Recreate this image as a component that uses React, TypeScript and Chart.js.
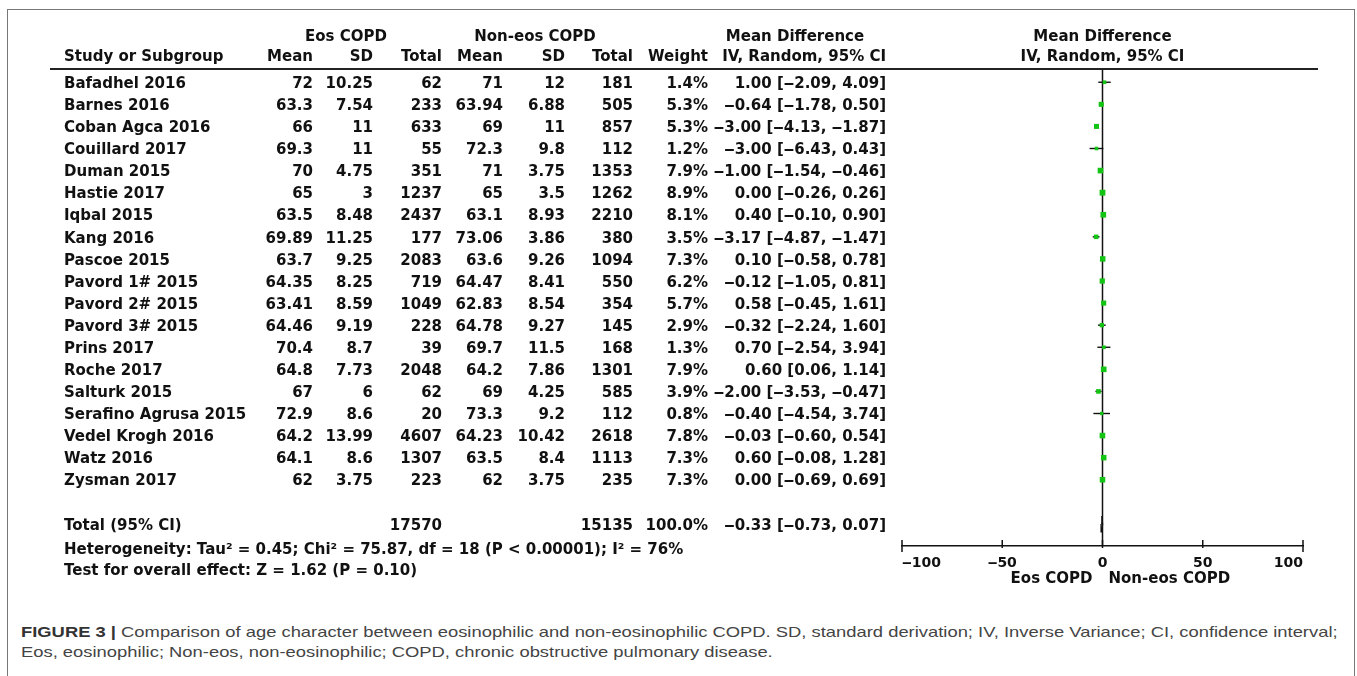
import React, { useEffect, useRef } from "react";
import { Chart, registerables } from "chart.js";

Chart.register(...registerables);

// ---------- data ----------
const studies = [
  "Bafadhel 2016", "Barnes 2016", "Coban Agca 2016", "Couillard 2017", "Duman 2015",
  "Hastie 2017", "Iqbal 2015", "Kang 2016", "Pascoe 2015", "Pavord 1# 2015",
  "Pavord 2# 2015", "Pavord 3# 2015", "Prins 2017", "Roche 2017", "Salturk 2015",
  "Serafino Agrusa 2015", "Vedel Krogh 2016", "Watz 2016", "Zysman 2017",
];
const eosMean = [72, 63.3, 66, 69.3, 70, 65, 63.5, 69.89, 63.7, 64.35, 63.41, 64.46, 70.4, 64.8, 67, 72.9, 64.2, 64.1, 62];
const eosSD = [10.25, 7.54, 11, 11, 4.75, 3, 8.48, 11.25, 9.25, 8.25, 8.59, 9.19, 8.7, 7.73, 6, 8.6, 13.99, 8.6, 3.75];
const eosTotal = [62, 233, 633, 55, 351, 1237, 2437, 177, 2083, 719, 1049, 228, 39, 2048, 62, 20, 4607, 1307, 223];
const nonMean = [71, 63.94, 69, 72.3, 71, 65, 63.1, 73.06, 63.6, 64.47, 62.83, 64.78, 69.7, 64.2, 69, 73.3, 64.23, 63.5, 62];
const nonSD = [12, 6.88, 11, 9.8, 3.75, 3.5, 8.93, 3.86, 9.26, 8.41, 8.54, 9.27, 11.5, 7.86, 4.25, 9.2, 10.42, 8.4, 3.75];
const nonTotal = [181, 505, 857, 112, 1353, 1262, 2210, 380, 1094, 550, 354, 145, 168, 1301, 585, 112, 2618, 1113, 235];
const weights = [1.4, 5.3, 5.3, 1.2, 7.9, 8.9, 8.1, 3.5, 7.3, 6.2, 5.7, 2.9, 1.3, 7.9, 3.9, 0.8, 7.8, 7.3, 7.3];
const meanDiff = [1.0, -0.64, -3.0, -3.0, -1.0, 0.0, 0.4, -3.17, 0.1, -0.12, 0.58, -0.32, 0.7, 0.6, -2.0, -0.4, -0.03, 0.6, 0.0];
const ciLow = [-2.09, -1.78, -4.13, -6.43, -1.54, -0.26, -0.1, -4.87, -0.58, -1.05, -0.45, -2.24, -2.54, 0.06, -3.53, -4.54, -0.6, -0.08, -0.69];
const ciHigh = [4.09, 0.5, -1.87, 0.43, -0.46, 0.26, 0.9, -1.47, 0.78, 0.81, 1.61, 1.6, 3.94, 1.14, -0.47, 3.74, 0.54, 1.28, 0.69];

const totalLabel = "Total (95% CI)";
const totalEos = 17570;
const totalNon = 15135;
const totalWeight = 100.0;
const totalMD = -0.33;
const totalLow = -0.73;
const totalHigh = 0.07;

const heterogeneityText = "Heterogeneity: Tau\u00B2 = 0.45; Chi\u00B2 = 75.87, df = 18 (P < 0.00001); I\u00B2 = 76%";
const overallText = "Test for overall effect: Z = 1.62 (P = 0.10)";

const xTicks = [-100, -50, 0, 50, 100];
const leftFavours = "Eos COPD";
const rightFavours = "Non-eos COPD";

const captionBold = "FIGURE 3 |";
const captionLine1 =
  " Comparison of age character between eosinophilic and non-eosinophilic COPD. SD, standard derivation; IV, Inverse Variance; CI, confidence interval;";
const captionLine2 = "Eos, eosinophilic; Non-eos, non-eosinophilic; COPD, chronic obstructive pulmonary disease.";

// ---------- helpers ----------
const DASH = "\u2012";
const fmt = (v: number, d?: number) => {
  const s = d === undefined ? String(Math.abs(v)) : Math.abs(v).toFixed(d);
  return (v < 0 ? DASH : "") + s;
};
const ciText = (m: number, lo: number, hi: number) => `${fmt(m, 2)} [${fmt(lo, 2)}, ${fmt(hi, 2)}]`;

const FONT = 'bold 15px "DejaVu Sans"';
const TOTAL_ROW = studies.length + 1;

const tablePlugin = {
  id: "forestTable",
  afterDraw(chart: any) {
    const { ctx, chartArea } = chart;
    const xs = chart.scales.x;
    const ys = chart.scales.y;
    const x0 = xs.getPixelForValue(0);
    const top = chartArea.top;
    const axisY = chartArea.bottom;
    ctx.save();
    ctx.fillStyle = "#111";
    ctx.font = FONT;
    ctx.textBaseline = "middle";

    const L = (t: string, x: number, y: number) => { ctx.textAlign = "left"; ctx.fillText(t, x, y); };
    const R = (t: string, x: number, y: number) => { ctx.textAlign = "right"; ctx.fillText(t, x, y); };
    const C = (t: string, x: number, y: number) => { ctx.textAlign = "center"; ctx.fillText(t, x, y); };

    const col = { name: 64, em: 313, es: 373, et: 442, nm: 503, ns: 565, nt: 633, w: 708, ci: 886 };

    // headers
    const h1 = top - 31.5, h2 = top - 11.5;
    C("Eos COPD", 346, h1);
    C("Non-eos COPD", 535, h1);
    C("Mean Difference", 795, h1);
    L("Study or Subgroup", col.name, h2);
    R("Mean", col.em, h2); R("SD", col.es, h2); R("Total", col.et, h2);
    R("Mean", col.nm, h2); R("SD", col.ns, h2); R("Total", col.nt, h2);
    R("Weight", col.w, h2); R("IV, Random, 95% CI", col.ci, h2);
    C("Mean Difference", x0, h1);
    C("IV, Random, 95% CI", x0, h2);

    // header rule
    ctx.strokeStyle = "#222";
    ctx.lineWidth = 2;
    ctx.beginPath();
    ctx.moveTo(50, top);
    ctx.lineTo(1318, top);
    ctx.stroke();

    // rows
    studies.forEach((s, i) => {
      const y = ys.getPixelForValue(i) + 1.8;
      L(s, col.name, y);
      R(String(eosMean[i]), col.em, y);
      R(String(eosSD[i]), col.es, y);
      R(String(eosTotal[i]), col.et, y);
      R(String(nonMean[i]), col.nm, y);
      R(String(nonSD[i]), col.ns, y);
      R(String(nonTotal[i]), col.nt, y);
      R(weights[i].toFixed(1) + "%", col.w, y);
      R(ciText(meanDiff[i], ciLow[i], ciHigh[i]), col.ci, y);
    });

    const yt = ys.getPixelForValue(TOTAL_ROW) + 1.8;
    L(totalLabel, col.name, yt);
    R(String(totalEos), col.et, yt);
    R(String(totalNon), col.nt, yt);
    R(totalWeight.toFixed(1) + "%", col.w, yt);
    R(ciText(totalMD, totalLow, totalHigh), col.ci, yt);

    L(heterogeneityText, col.name, ys.getPixelForValue(TOTAL_ROW + 1.1) + 1.5);
    L(overallText, col.name, ys.getPixelForValue(TOTAL_ROW + 2.05) + 1.5);

    // axis tick marks
    ctx.strokeStyle = "#111";
    ctx.lineWidth = 1.5;
    xs.ticks.forEach((t: any, k: number) => {
      const px = xs.getPixelForValue(t.value);
      const end = k === 0 || k === xs.ticks.length - 1;
      ctx.beginPath();
      ctx.moveTo(px, axisY - 6);
      ctx.lineTo(px, axisY + (end ? 6 : 2));
      ctx.stroke();
    });

    // favours labels
    R(leftFavours, x0 - 10, axisY + 33);
    L(rightFavours, x0 + 6, axisY + 33);
    ctx.restore();
  },
};

export default function App() {
  const ref = useRef<HTMLCanvasElement | null>(null);

  useEffect(() => {
    if (!ref.current) return;
    const ciSets = studies.map((_, i) => ({
      type: "line" as const,
      data: [{ x: ciLow[i], y: i }, { x: ciHigh[i], y: i }],
      borderColor: "#111",
      borderWidth: 1.4,
      pointRadius: 0,
      showLine: true,
      clip: false as any,
    }));
    const chart = new Chart(ref.current, {
      type: "scatter",
      data: {
        datasets: [
          {
            data: studies.map((_, i) => ({ x: meanDiff[i], y: i })),
            pointStyle: "rect",
            pointRadius: weights.map((w) => 1.6 + 0.85 * Math.sqrt(w)),
            backgroundColor: "#14c414",
            borderWidth: 0,
          },
          {
            type: "line",
            data: [
              { x: totalLow, y: TOTAL_ROW },
              { x: totalMD, y: TOTAL_ROW - 0.36 },
              { x: totalHigh, y: TOTAL_ROW },
              { x: totalMD, y: TOTAL_ROW + 0.36 },
              { x: totalLow, y: TOTAL_ROW },
            ],
            borderColor: "#111",
            backgroundColor: "#111",
            borderWidth: 1.2,
            fill: true,
            pointRadius: 0,
            showLine: true,
          } as any,
          ...ciSets,
          {
            type: "line",
            data: [{ x: 0, y: -0.6 }, { x: 0, y: 21 }],
            borderColor: "#111",
            borderWidth: 1.5,
            pointRadius: 0,
            showLine: true,
            clip: false,
          } as any,
        ],
      },
      options: {
        animation: false,
        responsive: false,
        events: [],
        layout: { padding: { left: 902, right: 54, top: 69, bottom: 14 } },
        plugins: { legend: { display: false }, tooltip: { enabled: false } },
        scales: {
          x: {
            type: "linear",
            position: "bottom",
            min: -100,
            max: 100,
            afterBuildTicks: (s: any) => { s.ticks = xTicks.map((v) => ({ value: v })); },
            afterFit: (s: any) => { s.height = 40; },
            grid: { display: false },
            border: { display: true, color: "#111", width: 1.5 },
            ticks: {
              align: "inner",
              padding: 1,
              color: "#111",
              font: { family: "DejaVu Sans", size: 14, weight: "bold" },
              callback: (v: any) => fmt(Number(v)),
            },
          },
          y: { type: "linear", reverse: true, min: -0.6, max: 21, display: false },
        },
      },
      plugins: [tablePlugin],
    });
    return () => chart.destroy();
  }, []);

  return (
    <div style={{ position: "absolute", left: 0, top: 0, width: 1357, height: 676, overflow: "hidden", background: "#fff" }}>
      <div
        style={{
          position: "absolute", left: 7, top: 9, width: 1346, height: 700,
          borderLeft: "1.5px solid #777", borderTop: "1.5px solid #777", borderRight: "1.5px solid #777",
        }}
      />
      <canvas ref={ref} width={1357} height={600} style={{ position: "absolute", left: 0, top: 0 }} />
      <div
        style={{
          position: "absolute", left: 21, top: 622, whiteSpace: "nowrap",
          fontFamily: '"Liberation Sans", Arial, sans-serif', fontSize: 15, lineHeight: "20px", color: "#444",
          transform: "scaleX(1.225)", transformOrigin: "0 0",
        }}
      >
        <div>
          <span style={{ fontWeight: "bold", color: "#333" }}>{captionBold}</span>
          {captionLine1}
        </div>
        <div>{captionLine2}</div>
      </div>
    </div>
  );
}
